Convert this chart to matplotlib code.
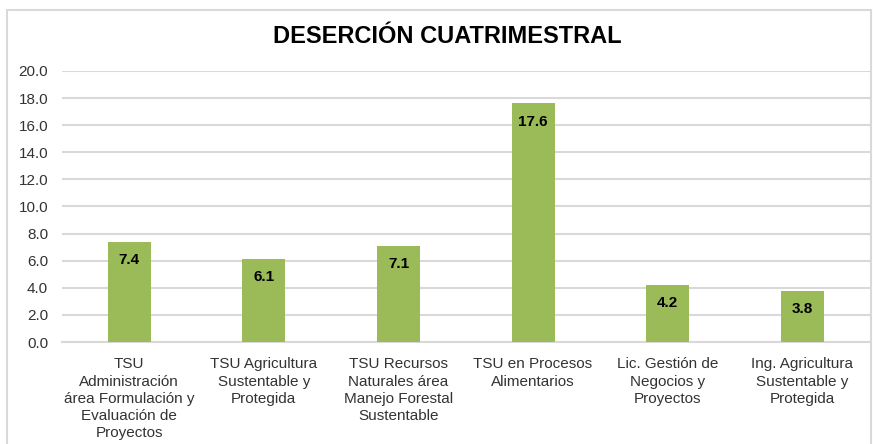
import matplotlib
matplotlib.use("Agg")
import matplotlib.pyplot as plt
from matplotlib.patches import Rectangle

# data
CATEGORIES = [
    "TSU\nAdministración\nárea Formulación y\nEvaluación de\nProyectos",
    "TSU Agricultura\nSustentable y\nProtegida",
    "TSU Recursos\nNaturales área\nManejo Forestal\nSustentable",
    "TSU en Procesos\nAlimentarios",
    "Lic. Gestión de\nNegocios y\nProyectos",
    "Ing. Agricultura\nSustentable y\nProtegida",
]
VALUES = [7.4, 6.1, 7.1, 17.6, 4.2, 3.8]
Y_TICKS = [0, 2, 4, 6, 8, 10, 12, 14, 16, 18, 20]

TITLE = "DESERCIÓN CUATRIMESTRAL"
BAR_COLOR = "#9BBB59"
GRID_COLOR = "#D9D9D9"

plt.rcParams["font.family"] = ["Liberation Sans", "DejaVu Sans"]

fig = plt.figure(figsize=(8.73, 4.44), dpi=100)
ax = fig.add_axes([0.071, 0.2297, 0.925, 0.6106])

x = range(len(CATEGORIES))
bars = ax.bar(x, VALUES, width=0.32, color=BAR_COLOR, zorder=3)

# value labels sit just inside the top of each bar
for bar, v in zip(bars, VALUES):
    ax.annotate(f"{v:.1f}", (bar.get_x() + bar.get_width() / 2, v),
                xytext=(0, -8), textcoords="offset points",
                ha="center", va="top", fontsize=11, fontweight="bold", zorder=4)

ax.set_xlim(-0.5, len(CATEGORIES) - 0.5)
ax.set_ylim(0, 20)
ax.set_yticks(Y_TICKS)
ax.set_yticklabels([f"{t:.1f}" for t in Y_TICKS], fontsize=11, color="#333333")
ax.set_xticks(list(x))
ax.set_xticklabels(CATEGORIES, fontsize=11, color="#333333", linespacing=1.3)
ax.tick_params(axis="both", length=0)
ax.tick_params(axis="y", pad=10)
ax.tick_params(axis="x", pad=11)

ax.grid(axis="y", color=GRID_COLOR, linewidth=1.5, zorder=0)
for side in ("top", "right", "left"):
    ax.spines[side].set_visible(False)
ax.spines["bottom"].set_color(GRID_COLOR)
ax.spines["bottom"].set_linewidth(1.5)

fig.text(0.512, 0.918, TITLE, ha="center", va="center",
         fontsize=17, fontweight="bold")

# light frame around the chart area
fig.patches.append(Rectangle((7 / 873, -0.05), 0.99, 1 - 10 / 444 + 0.05,
                             transform=fig.transFigure, fill=False,
                             edgecolor="#D9D9D9", linewidth=1.5))

fig.savefig("out.png", dpi=100)
